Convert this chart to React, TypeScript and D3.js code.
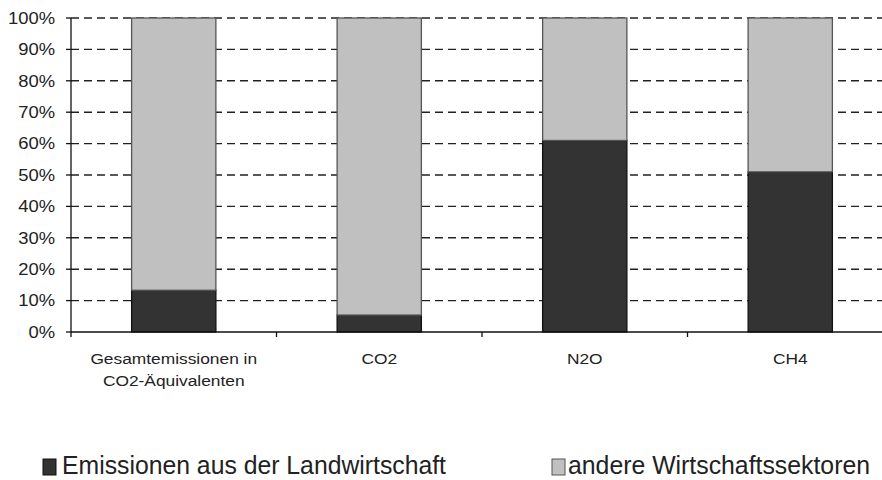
import React from 'react';
import * as d3 from 'd3';

const categories = ['Gesamtemissionen in\nCO2-Äquivalenten', 'CO2', 'N2O', 'CH4'];
const landwirtschaft = [13.3, 5.4, 61, 51];
const andere = [86.7, 94.6, 39, 49];
const seriesNames = ['Emissionen aus der Landwirtschaft', 'andere Wirtschaftssektoren'];
const yTicks = [0, 10, 20, 30, 40, 50, 60, 70, 80, 90, 100];

const W = 882;
const H = 480;
const left = 71;
const top = 18;
const bottom = 332;
const colors = ['#333333', '#c0c0c0'];
const font = '"Liberation Sans", Arial, sans-serif';

export default function App() {
  const x = d3.scaleBand<string>()
    .domain(categories)
    .range([left, left + 822])
    .paddingInner(0.59)
    .paddingOuter(0.295);
  const y = d3.scaleLinear().domain([0, 100]).range([bottom, top]);
  const step = x.step();

  const stacked = d3.stack<number>()
    .keys(['0', '1'])
    .value((i, k) => (k === '0' ? landwirtschaft[i] : andere[i]))(categories.map((_, i) => i));

  return (
    <svg width={W} height={H} style={{ position: 'absolute', left: 0, top: 0, background: '#fff' }}
      fontFamily={font}>
      {/* grid */}
      {yTicks.filter(t => t > 0).map(t => (
        <line key={'g' + t} x1={left} x2={W} y1={y(t)} y2={y(t)}
          stroke="#222" strokeWidth={1.4} strokeDasharray="8,5" />
      ))}
      {/* bars */}
      {stacked.map((layer, li) => layer.map((d, i) => (
        <rect key={li + '-' + i}
          x={x(categories[i])!} width={x.bandwidth()}
          y={y(d[1])} height={y(d[0]) - y(d[1])}
          fill={colors[li]} stroke={li === 0 ? '#111' : '#555'} strokeWidth={1.3} />
      )))}
      {/* y axis */}
      <line x1={left} x2={left} y1={top} y2={bottom + 5} stroke="#111" strokeWidth={1.3} />
      {yTicks.map(t => (
        <g key={'t' + t}>
          <line x1={left - 5} x2={left} y1={y(t)} y2={y(t)} stroke="#111" strokeWidth={1.3} />
          <text transform={`translate(${left - 16},${y(t) + 5.7}) scale(1.15,1)`}
            textAnchor="end" fontSize={16} fill="#222">{t}%</text>
        </g>
      ))}
      {/* x axis */}
      <line x1={left} x2={W} y1={bottom} y2={bottom} stroke="#111" strokeWidth={1.3} />
      {categories.map((c, i) => (
        <line key={'xt' + i} x1={left + step * (i + 1)} x2={left + step * (i + 1)}
          y1={bottom} y2={bottom + 5} stroke="#111" strokeWidth={1.3} />
      ))}
      {categories.map((c, i) => (
        c.split('\n').map((ln, j) => (
          <text key={'xl' + i + j}
            transform={`translate(${x(c)! + x.bandwidth() / 2},${364 + j * 22}) scale(1.12,1)`}
            textAnchor="middle" fontSize={15.5} fill="#222">{ln}</text>
        ))
      ))}
      {/* legend */}
      <rect x={43} y={459} width={13} height={16} fill={colors[0]} stroke="#111" strokeWidth={1} />
      <text x={62} y={474} fontSize={25} fill="#222" textLength={384}
        lengthAdjust="spacingAndGlyphs">{seriesNames[0]}</text>
      <rect x={552} y={459} width={13} height={16} fill={colors[1]} stroke="#555" strokeWidth={1} />
      <text x={568} y={474} fontSize={25} fill="#222" textLength={302}
        lengthAdjust="spacingAndGlyphs">{seriesNames[1]}</text>
    </svg>
  );
}
